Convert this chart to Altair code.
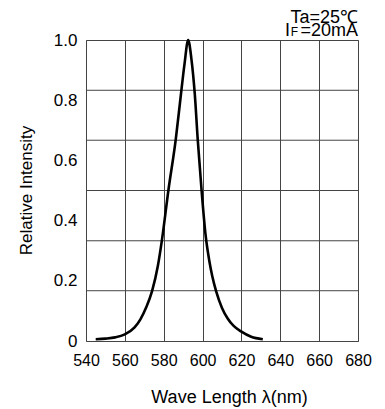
import altair as alt
import pandas as pd

# Spectral curve
wavelength = [545, 550, 555, 560, 565, 568, 571, 574, 577, 579.1, 582.4, 586.2, 588.7, 590.7, 592.6,
              594.2, 596, 597.5, 599.5, 601.5, 603.5, 605, 607, 610, 613, 616, 620, 625, 631]
intensity = [0.006, 0.008, 0.012, 0.022, 0.045, 0.072, 0.112, 0.166, 0.25, 0.336, 0.50, 0.67, 0.81, 0.92, 1.0,
             0.94, 0.82, 0.67, 0.50, 0.355, 0.265, 0.215, 0.165, 0.11, 0.074, 0.05, 0.031, 0.014, 0.006]

x_ticks = [540, 560, 580, 600, 620, 640, 660, 680]
y_ticks = [0, 0.2, 0.4, 0.6, 0.8, 1.0]
h_grid = [0.167, 0.333, 0.5, 0.667, 0.833]

curve = pd.DataFrame({"wl": wavelength, "ri": intensity})
grid = pd.DataFrame({"g": h_grid})

FONT = "Liberation Sans"
GRID = "#444444"

xscale = alt.Scale(domain=[540, 680], nice=False, zero=False)
yscale = alt.Scale(domain=[0, 1], nice=False)

hlines = alt.Chart(grid).mark_rule(color=GRID, strokeWidth=1).encode(
    y=alt.Y("g:Q", scale=yscale)
)

line = alt.Chart(curve).mark_line(color="black", strokeWidth=2.6, interpolate="monotone").encode(
    x=alt.X("wl:Q", scale=xscale,
            axis=alt.Axis(values=x_ticks, grid=True, gridColor=GRID, gridOpacity=1, gridWidth=1,
                          ticks=False, domain=False, labelFontSize=16, labelFont=FONT,
                          labelColor="black", labelPadding=11, labelFlush=False,
                          title="Wave Length  λ(nm)", titleFont=FONT, titleFontSize=18,
                          titleFontWeight="normal", titleColor="black",
                          titleX=143, titleY=56, titleBaseline="middle")),
    y=alt.Y("ri:Q", scale=yscale,
            axis=alt.Axis(values=y_ticks, grid=False, ticks=False, domain=False,
                          labelFontSize=17, labelFont=FONT, labelColor="black", labelPadding=9,
                          labelExpr="datum.value == 0 ? '0' : format(datum.value, '.1f')",
                          title="Relative Intensity", titleFont=FONT, titleFontSize=17,
                          titleFontWeight="normal", titleColor="black",
                          titleX=-60, titleY=150, titleBaseline="middle", titleAlign="center")),
)

def label(txt, x, y, size):
    return alt.Chart(pd.DataFrame({"t": [txt]})).mark_text(
        font=FONT, fontSize=size, align="right", baseline="alphabetic", color="black"
    ).encode(text="t:N", x=alt.value(x), y=alt.value(y))

ann1 = label("Ta=25℃", 272, -17, 18)
ann2 = label("=20mA", 272, -4, 18)
ann3 = label("F", 212, -4, 12)
ann4 = label("I", 204, -4, 18)

chart = alt.layer(hlines, line, ann1, ann2, ann3, ann4).properties(
    width=272, height=301,
    autosize=alt.AutoSizeParams(type="none"),
    padding={"left": 78, "top": 32, "right": 19, "bottom": 68},
).configure_view(stroke=GRID, strokeWidth=1)

chart.save("out.html", embed_options={"renderer": "svg", "actions": False})
